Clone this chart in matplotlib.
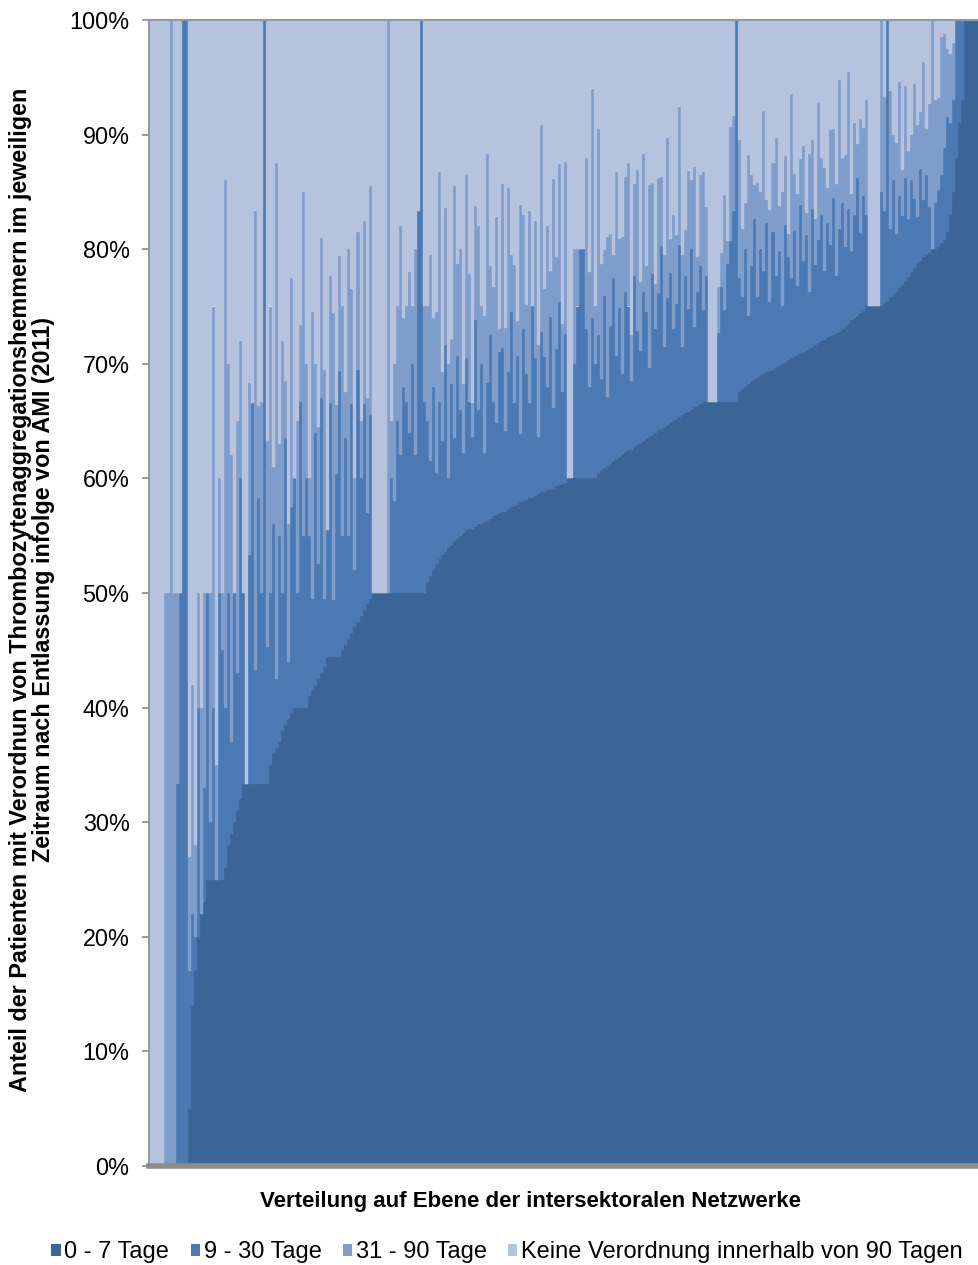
import matplotlib
matplotlib.use("Agg")
import matplotlib.pyplot as plt
from matplotlib.patches import Rectangle
import numpy as np

plt.rcParams['font.family'] = ['Liberation Sans', 'DejaVu Sans']

# Anteile je Netzwerk in Prozent (sortiert nach 0-7 Tage)
tage_0_7 = [
    0, 0, 0, 0, 0, 0, 0, 0, 0, 0, 0, 0, 0,
    5, 14, 17, 20, 22, 23,
    25, 25, 25, 25, 25, 25,
    26, 28, 29, 30, 31, 32,
    33.3, 33.3, 33.3, 33.3, 33.3, 33.3, 33.3, 33.3, 33.3,
    35, 36, 36.5, 37, 38, 38.5, 39, 39.5,
    40, 40, 40, 40, 40,
    41, 41.5, 42, 42.5, 43, 43.5,
    44.4, 44.4, 44.4, 44.4, 44.4,
    45, 45.5, 46, 46.5, 47, 47.5, 48, 48.5, 49, 49.5,
    50, 50, 50, 50, 50, 50, 50, 50, 50, 50, 50, 50, 50, 50, 50, 50, 50, 50,
    51, 51.5, 52, 52.5, 53, 53.3, 53.6, 54, 54.2, 54.5, 54.7, 55, 55.2, 55.5,
    55.6, 55.6, 55.8, 56, 56, 56.2, 56.3, 56.5, 56.7, 56.8,
    57, 57.1, 57.1, 57.3, 57.5, 57.6, 57.7, 57.9, 58, 58.1,
    58.3, 58.3, 58.5, 58.6, 58.8, 58.8, 59, 59.1, 59.1, 59.3,
    59.4, 59.5, 59.6,
    60, 60, 60, 60, 60, 60, 60, 60, 60, 60,
    60.5, 60.7, 60.9, 61.1, 61.3, 61.5, 61.7, 61.9, 62.1, 62.3,
    62.5, 62.5, 62.7, 62.9, 63.1, 63.3, 63.5, 63.6, 63.8, 64,
    64.2, 64.3, 64.5, 64.7, 64.9, 65, 65.2, 65.4, 65.5, 65.7,
    65.8, 66, 66.2, 66.3, 66.5,
    66.7, 66.7, 66.7, 66.7, 66.7, 66.7, 66.7, 66.7, 66.7, 66.7, 66.7, 66.7,
    67.5, 67.8, 68, 68.2, 68.5,
    68.6, 68.8, 69, 69.1, 69.3, 69.4, 69.5, 69.7, 69.8, 70,
    70.1, 70.3, 70.5, 70.6, 70.8, 70.9, 71, 71.2, 71.3, 71.5,
    71.6, 71.8, 72, 72.1, 72.3, 72.4, 72.5, 72.7, 72.8, 73,
    73.2, 73.5, 73.8, 74, 74.2, 74.4, 74.6,
    75, 75, 75, 75, 75, 75,
    75.3, 75.5, 75.8, 76, 76.3, 76.6, 76.9, 77.2, 77.6, 78, 78.4, 78.8,
    79, 79.3, 79.5, 79.7, 80, 80, 80.2,
    80.5, 80.8, 81.5, 83, 85, 88, 91, 93,
    100, 100, 100, 100, 100,
]

tage_9_30 = [
    0, 0, 0, 0, 0, 0, 0, 0, 0, 33.3, 50, 100, 100,
    12, 8, 3, 20, 0, 10,
    25, 5, 15, 0, 25, 20,
    14, 22, 8, 20, 12, 28,
    16.7, 0, 20, 33.3, 10, 25, 16.7, 66.7, 12,
    15, 20, 6, 18, 12, 25, 5, 18,
    20, 10, 26.7, 15, 20,
    14, 8, 22, 10, 24, 6,
    11.1, 22.2, 5, 16, 25,
    10, 18, 9, 20, 5, 22, 12, 18, 8, 16,
    0, 0, 0, 0, 0, 0, 10, 8, 15, 12, 18, 16.7, 14, 20, 12, 33.3, 50, 16.7,
    14, 10, 16, 8, 13.7, 10, 18, 6, 14, 9, 16, 11, 7, 15,
    11.1, 8, 18, 10, 14, 6, 12, 16, 10, 8,
    14, 14.3, 7, 12, 17, 9, 13, 6, 15, 11,
    8.3, 16.7, 12, 5, 14, 11.8, 9, 15, 7, 12,
    16, 8, 13,
    0, 0, 10, 15, 20, 20, 13, 8, 14, 10,
    12, 8, 15, 6, 12, 16, 9, 13, 7, 14,
    12.5, 6, 15, 10, 8, 13, 11, 6, 14, 9,
    12, 16, 7, 11, 13, 8, 10, 15, 6, 12,
    9, 14, 7, 10, 12,
    8, 11, 0, 0, 0, 6, 10, 8, 12, 14, 16.6, 33.3,
    10, 8, 12, 6, 10,
    14, 7, 11, 9, 13, 6, 12, 8, 10, 5,
    12, 9, 7, 11, 6, 13, 8, 10, 5, 12,
    7, 9, 11, 6, 10, 8, 12, 5, 9, 11,
    7, 10, 6, 9, 12, 7, 10,
    8, 0, 0, 0, 0, 10,
    8, 24.5, 6, 10, 5, 8, 6, 9, 5, 8, 6, 4,
    8, 5, 7, 4, 0, 4, 5,
    6, 8, 10, 8, 8, 12, 9, 7,
    0, 0, 0, 0, 0,
]

tage_31_90 = [
    0, 0, 0, 0, 0, 50, 50, 100, 50, 16.7, 0, 0, 0,
    10, 20, 8, 10, 18, 17,
    0, 20, 35, 10, 10, 5,
    46, 20, 25, 0, 22, 12,
    0, 0, 15, 0, 40, 8, 16.7, 0, 18,
    25, 5, 45, 8, 22, 5, 12, 20,
    0, 15, 6.7, 30, 10,
    5, 25, 6, 12, 14, 20,
    0, 11.1, 25, 6, 10,
    20, 4, 25, 10, 8, 12, 5, 16, 10, 20,
    0, 0, 0, 0, 0, 50, 5, 12, 10, 20, 6, 8.3, 14, 5, 18, 0, 0, 8.3,
    10, 18, 6, 14, 20, 6, 12, 10, 4, 22, 8, 14, 6, 16,
    11.1, 3, 10, 16, 5, 12, 20, 6, 10, 18,
    2, 14.3, 9, 16, 5, 12, 3, 20, 10, 6,
    16.7, 0, 12, 8, 18, 5.9, 14, 4, 20, 8,
    12, 6, 15,
    0, 0, 10, 5, 0, 0, 15, 10, 20, 5,
    18, 10, 4, 14, 8, 2, 16, 6, 12, 10,
    12.5, 4, 8, 14, 6, 12, 4, 16, 8, 4,
    10, 6, 8, 14, 3, 10, 6, 12, 8, 4,
    12, 6, 14, 3, 8,
    12, 6, 0, 0, 0, 4, 3, 10, 2, 10, 8.3, 0,
    12, 6, 4, 14, 8,
    3, 10, 5, 14, 2, 8, 6, 12, 4, 10,
    6, 2, 16, 5, 8, 4, 10, 2, 12, 6,
    4, 12, 5, 9, 3, 10, 6, 8, 13, 4,
    8, 12, 5, 8, 3, 10, 6,
    10, 0, 0, 0, 0, 15,
    10, 0, 12, 4, 8, 10, 4, 8, 6, 4, 10, 8,
    5, 12, 4, 9, 20, 9, 8,
    12, 10, 6, 6, 5, 0, 0, 0,
    0, 0, 0, 0, 0,
]

serien = ['0 - 7 Tage', '9 - 30 Tage', '31 - 90 Tage',
          'Keine Verordnung innerhalb von 90 Tagen']
farben = ['#3B6497', '#4A79B3', '#7F9DCB', '#B5C3DF']
yticks = [0, 10, 20, 30, 40, 50, 60, 70, 80, 90, 100]

a = np.array(tage_0_7, dtype=float)
b = np.array(tage_9_30, dtype=float)
c = np.array(tage_31_90, dtype=float)
keine = np.clip(100 - a - b - c, 0, None)
n = len(a)
x = np.arange(n)

fig = plt.figure(figsize=(9.79, 12.65), dpi=100)
ax = fig.add_axes([149 / 979, 1 - 1166 / 1265, 1 - 149 / 979, (1166 - 20) / 1265])

unten = np.zeros(n)
for werte, farbe in zip([a, b, c, keine], farben):
    ax.bar(x, werte, bottom=unten, width=1.0, color=farbe,
           edgecolor=farbe, linewidth=0.3)
    unten = unten + werte

ax.set_xlim(-0.5, n - 0.5)
ax.set_ylim(0, 100)
ax.set_yticks(yticks)
ax.set_yticklabels([f'{t}%' for t in yticks], fontsize=16.8)
ax.set_xticks([])
ax.tick_params(axis='y', direction='out', length=5, width=1.2,
               color='#888888', pad=9)

for s in ['left', 'top']:
    ax.spines[s].set_color('#999999')
    ax.spines[s].set_linewidth(1.5)
ax.spines['right'].set_visible(False)
ax.spines['bottom'].set_color('#8C8C8C')
ax.spines['bottom'].set_linewidth(4)

fig.text(32 / 979, 1 - 590 / 1265,
         'Anteil der Patienten mit Verordnun von Thrombozytenaggregationshemmern im jeweiligen\n'
         'Zeitraum nach Entlassung infolge von AMI (2011)',
         rotation=90, ha='center', va='center', fontsize=16.8, fontweight='bold',
         linespacing=0.95)

fig.text(530 / 979, 1 - 1202 / 1265,
         'Verteilung auf Ebene der intersektoralen Netzwerke',
         ha='center', va='center', fontsize=16, fontweight='bold')

handles = [Rectangle((0, 0), 1, 1, facecolor=f, edgecolor='none') for f in farben]
fig.legend(handles, serien, loc='center', bbox_to_anchor=(507 / 979, 1 - 1252 / 1265),
           ncol=4, frameon=False, fontsize=17, handlelength=0.4,
           handleheight=0.4, handletextpad=0.15, columnspacing=0.9,
           borderaxespad=0)

fig.savefig('out.png', dpi=100)
